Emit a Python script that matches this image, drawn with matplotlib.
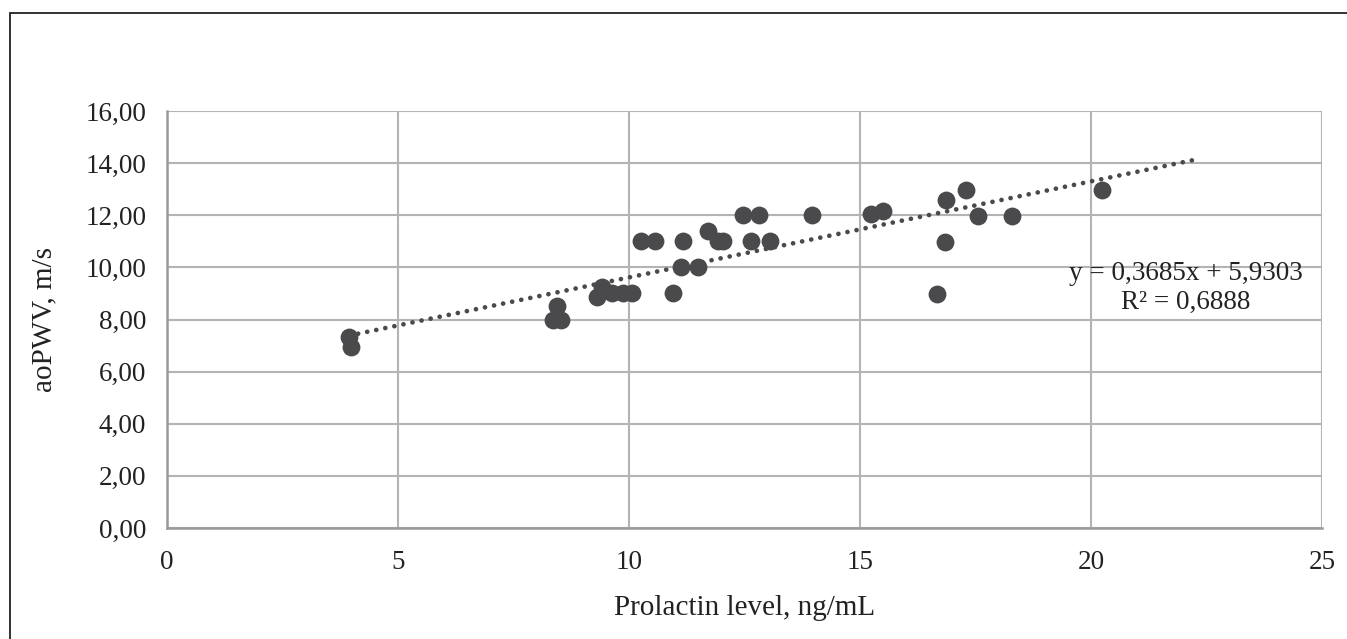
import numpy as np
import matplotlib.pyplot as plt
import matplotlib.patches as patch
from matplotlib.ticker import FuncFormatter

plt.rcParams['font.family'] = ['Liberation Serif', 'DejaVu Serif']

# prolactin level, ng/mL
prolactin = [3.94, 3.98, 8.36, 8.53, 8.44, 9.30, 9.42, 9.63, 9.87, 10.06,
             10.26, 10.56, 10.95, 11.12, 11.17, 11.50, 11.71, 11.93, 12.03,
             12.47, 12.64, 12.81, 13.05, 13.96, 15.24, 15.50, 16.67, 16.84,
             16.86, 17.29, 17.56, 18.29, 20.24]
# aortic pulse wave velocity, m/s
aopwv = [7.33, 6.95, 8.0, 8.0, 8.52, 8.86, 9.25, 9.0, 9.0, 9.0,
         11.0, 11.0, 9.0, 10.0, 11.0, 10.0, 11.4, 11.0, 11.0,
         12.0, 11.0, 12.0, 11.0, 12.0, 12.05, 12.16, 8.98, 10.97,
         12.59, 12.97, 11.97, 11.97, 12.97]

slope = 0.3685
intercept = 5.9303
r2 = 0.6888
trend_end = 22.2

fig = plt.figure(figsize=(13.47, 6.39), dpi=100)
ax = fig.add_axes([0.124, 0.1737, 0.8574, 0.6526])

# outer frame of the figure panel
fig.patches.append(patch.Rectangle((10 / 1347, -0.1), 1.2, (639 - 13) / 639 + 0.1,
                                   transform=fig.transFigure, fill=False,
                                   edgecolor='#222222', linewidth=1.3, clip_on=False))

ax.scatter(prolactin, aopwv, s=165, color='#4a4a4c', zorder=3, linewidths=0)

tx = np.array([min(prolactin), trend_end])
ax.plot(tx, slope * tx + intercept, color='#4a4a4c', linewidth=3.4,
        dashes=(0.01, 1.95), dash_capstyle='round', zorder=4)

ax.set_xlim(0, 25)
ax.set_ylim(0, 16)
ax.set_xticks(range(0, 26, 5))
ax.set_yticks(range(0, 17, 2))
ax.yaxis.set_major_formatter(FuncFormatter(lambda v, p: ('%.2f' % v).replace('.', ',')))
ax.grid(True, color='#b4b4b6', linewidth=1.5)
ax.set_axisbelow(True)
for s in ['top', 'right']:
    ax.spines[s].set_visible(False)
for s in ['left', 'bottom']:
    ax.spines[s].set_color('#9a9a9c')
    ax.spines[s].set_linewidth(1.8)
ax.tick_params(length=0, labelsize=19.5, colors='#222222')
ax.tick_params(axis='y', pad=15)
ax.tick_params(axis='x', pad=16)

ax.set_xlabel('Prolactin level, ng/mL', fontsize=21, color='#222222', labelpad=14)
ax.set_ylabel('aoPWV, m/s', fontsize=21, color='#222222', labelpad=20)

eq = 'y = %sx + %s' % (('%.4f' % slope).replace('.', ','), ('%.4f' % intercept).replace('.', ','))
ax.text(1303 / 1347, 1 - 261 / 639, eq + '\nR² = ' + ('%.4f' % r2).replace('.', ','),
        transform=fig.transFigure, ha='right', va='top', multialignment='center',
        fontsize=19.5, color='#222222', linespacing=1.22)

fig.savefig('out.png', dpi=100)
